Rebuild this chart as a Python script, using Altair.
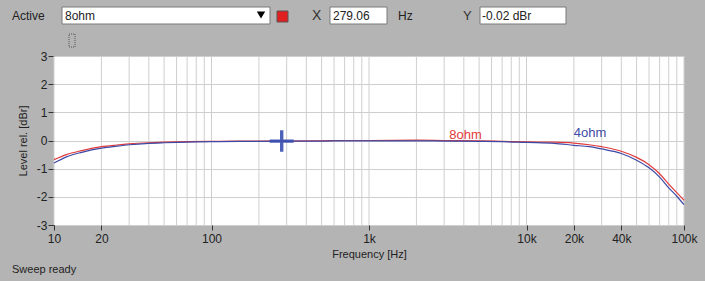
import altair as alt
import pandas as pd

freq = [10, 12, 15, 20, 25, 30, 40, 50, 70, 100, 150, 200, 300, 500, 700, 1000,
        2000, 3000, 5000, 7000, 10000, 15000, 20000, 25000, 30000, 40000, 50000,
        60000, 70000, 80000, 90000, 100000]
ohm8 = [-0.68, -0.5, -0.36, -0.22, -0.16, -0.12, -0.08, -0.06, -0.04, -0.03, -0.02,
        -0.02, -0.02, -0.01, 0.0, 0.0, 0.01, 0.0, -0.01, -0.03, -0.05, -0.06, -0.09,
        -0.15, -0.22, -0.38, -0.6, -0.86, -1.18, -1.55, -1.85, -2.12]
ohm4 = [-0.8, -0.58, -0.42, -0.27, -0.2, -0.15, -0.1, -0.08, -0.06, -0.04, -0.03,
        -0.03, -0.02, -0.02, -0.01, -0.01, -0.01, -0.02, -0.03, -0.04, -0.07, -0.1,
        -0.17, -0.22, -0.3, -0.46, -0.7, -0.97, -1.3, -1.68, -1.98, -2.28]

x_labels = [10, 20, 100, 1000, 10000, 20000, 40000, 100000]
y_ticks = [-3, -2, -1, 0, 1, 2, 3]
grid_x = [m * 10 ** e for e in range(1, 5) for m in range(1, 10)] + [100000]

series_names = ["8ohm", "4ohm"]
series_colors = ["#e23a3a", "#3c4aa6"]
label_freq = [4100, 25300]
label_level = [0.18, 0.25]

cursor_freq = [279.06]
cursor_level = [-0.02]

FONT = "Liberation Sans"
BG = "#b4b4b4"
GRID = "#cfcfcf"

rows = []
for n, vals in zip(series_names, [ohm8, ohm4]):
    for f, v in zip(freq, vals):
        rows.append({"freq": f, "level": v, "series": n})
df = pd.DataFrame(rows)

xscale = alt.Scale(type="log", domain=[10, 100000], nice=False)
yscale = alt.Scale(domain=[-3, 3], nice=False)

label_expr = ("datum.value >= 1000 ? (datum.value/1000) + 'k' : "
              "'' + datum.value")

xaxis = alt.Axis(values=x_labels, labelExpr=label_expr, grid=False,
                 domain=False, tickColor="#333333", tickSize=5, labelOverlap=False,
                 labelFlush=False, labelBound=False,
                 labelColor="#222222", labelFont=FONT, labelFontSize=12,
                 labelPadding=3, title="Frequency [Hz]", titleFont=FONT,
                 titleFontSize=11, titleFontWeight="normal",
                 titleColor="#222222", titlePadding=4)
yaxis = alt.Axis(values=y_ticks, grid=True, gridColor=GRID, domain=False,
                 labelExpr="'' + datum.value", labelOverlap=False,
                 labelFlush=False, labelBound=False,
                 tickColor="#333333", tickSize=6, labelColor="#222222",
                 labelFont=FONT, labelFontSize=12, labelPadding=1,
                 title="Level rel. [dBr]", titleFont=FONT, titleFontSize=11,
                 titleFontWeight="normal", titleColor="#222222",
                 titlePadding=8)

grid = alt.Chart(pd.DataFrame({"g": grid_x})).mark_rule(color=GRID, strokeWidth=1).encode(
    x=alt.X("g:Q", scale=xscale, axis=xaxis)
)

color_scale = alt.Scale(domain=series_names, range=series_colors)

lines = alt.Chart(df).mark_line(strokeWidth=1.2, interpolate="monotone").encode(
    x=alt.X("freq:Q", scale=xscale, axis=xaxis),
    y=alt.Y("level:Q", scale=yscale, axis=yaxis),
    color=alt.Color("series:N", scale=color_scale, legend=None),
    order=alt.Order("series:N", sort="ascending"),
)

labels = alt.Chart(pd.DataFrame({"freq": label_freq, "level": label_level,
                                 "series": series_names})).mark_text(
    font=FONT, fontSize=13, align="center", baseline="middle").encode(
    x=alt.X("freq:Q", scale=xscale, axis=xaxis),
    y=alt.Y("level:Q", scale=yscale, axis=yaxis),
    text="series:N",
    color=alt.Color("series:N", scale=color_scale, legend=None),
)

cross_path = ("M-1,-0.14 L1,-0.14 L1,0.14 L-1,0.14 Z "
              "M-0.14,-0.9 L0.14,-0.9 L0.14,0.9 L-0.14,0.9 Z")
cursor = alt.Chart(pd.DataFrame({"freq": cursor_freq, "level": cursor_level})).mark_point(
    shape=cross_path, filled=True, color="#3a4fb0", opacity=0.9, size=576).encode(
    x=alt.X("freq:Q", scale=xscale, axis=xaxis),
    y=alt.Y("level:Q", scale=yscale, axis=yaxis),
)

# --- toolbar / status decorations (UI chrome, pixel positions relative to plot origin)
one = pd.DataFrame({"a": [0]})

def box(x1, x2, y1, y2, fill="white", stroke="#7a7a7a", dash=None):
    kw = dict(fill=fill, stroke=stroke, strokeWidth=1)
    if dash:
        kw["strokeDash"] = dash
    return alt.Chart(one).mark_rect(**kw).encode(
        x=alt.value(x1), x2=alt.value(x2), y=alt.value(y1), y2=alt.value(y2))

def txt(s, x, y, size=12, align="left", color="#222222"):
    return alt.Chart(one).mark_text(text=s, font=FONT, fontSize=size, align=align,
                                    baseline="middle", color=color).encode(
        x=alt.value(x), y=alt.value(y))

chrome = [
    txt("Active", -42, -40),
    box(8, 216, -49, -32),
    txt("8ohm", 11, -40),
    alt.Chart(one).mark_point(shape="triangle-down", filled=True, color="black",
                              opacity=1, size=70).encode(x=alt.value(207), y=alt.value(-41)),
    box(223, 234, -45, -34, fill="#e02020", stroke="#555555"),
    txt("X", 258, -40, size=14, color="#333333"),
    box(276, 333, -49, -32),
    txt("279.06", 279, -40),
    txt("Hz", 344, -40),
    txt("Y", 409, -40, size=13, color="#333333"),
    box(426, 512, -49, -32),
    txt("-0.02 dBr", 428, -40),
    box(15, 21, -22, -9, fill=BG, stroke="#555555", dash=[1, 1]),
    txt("Sweep ready", -42, 214, size=11),
]

chart = alt.layer(grid, lines, labels, cursor, *chrome).properties(
    width=630, height=169,
    background=BG,
    padding={"left": 54, "top": 56, "right": 21, "bottom": 56},
    autosize=alt.AutoSizeParams(type="none"),
).configure_view(fill="white", stroke=None)

chart.save("out.html", embed_options={"renderer": "svg", "actions": False})
